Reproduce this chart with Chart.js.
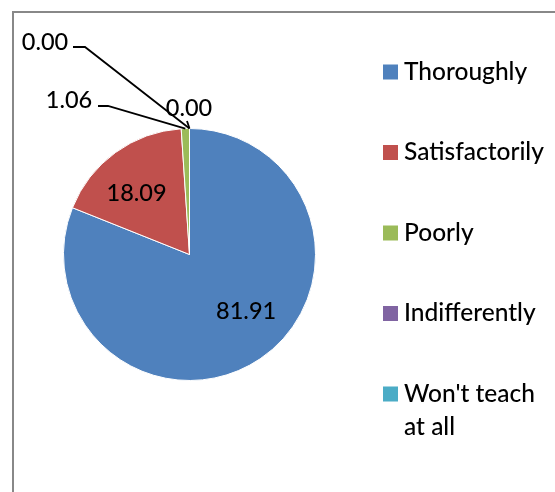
<!DOCTYPE html>
<html>
<head>
<meta charset="utf-8">
<script src="https://cdn.jsdelivr.net/npm/chart.js@4"></script>
<style>
  html, body { margin: 0; padding: 0; background: #fff; }
  #wrap { position: relative; width: 555px; height: 492px; }
  canvas { display: block; }
</style>
</head>
<body>
<div id="wrap"><canvas id="c" width="555" height="492"></canvas></div>
<script>
// ---- data ----
const categories = ["Thoroughly", "Satisfactorily", "Poorly", "Indifferently", "Won't teach at all"];
const values = [81.91, 18.09, 1.06, 0.00, 0.00];
const valueLabels = ["81.91", "18.09", "1.06", "0.00", "0.00"];
const colors = ["#4F81BD", "#C0504D", "#9BBB59", "#8064A2", "#4BACC6"];

const FONT = "Lato, 'Open Sans', sans-serif";

// label placement (style): inside labels use polar offset; outside labels use text anchor + elbow
const labelPlacement = [
  { type: "inside", angleDeg: 135.4, rFrac: 0.64 },
  { type: "inside", angleDeg: 319.0, rFrac: 0.64 },
  { type: "leader", tx: 69, ty: 100, elbow: [[98, 106], [108, 106]] },
  { type: "leader", tx: 45, ty: 42, elbow: [[73, 47], [85, 47]] },
  { type: "leader", tx: 189, ty: 108, elbow: [[187, 121]] }
];

const frame = {
  id: "frame",
  beforeDraw(chart) {
    const ctx = chart.ctx;
    ctx.save();
    ctx.fillStyle = "#fff";
    ctx.fillRect(0, 0, chart.width, chart.height);
    ctx.strokeStyle = "#888888";
    ctx.lineWidth = 2;
    ctx.beginPath();
    ctx.moveTo(13, chart.height + 5);
    ctx.lineTo(13, 12);
    ctx.lineTo(chart.width + 5, 12);
    ctx.stroke();
    ctx.restore();
  }
};

const valueLabelsPlugin = {
  id: "valueLabels",
  afterDatasetsDraw(chart) {
    const ctx = chart.ctx;
    const meta = chart.getDatasetMeta(0);
    ctx.save();
    ctx.font = "500 23.5px " + FONT;
    ctx.fillStyle = "#000";
    ctx.textAlign = "center";
    ctx.textBaseline = "middle";
    meta.data.forEach((arc, i) => {
      const p = labelPlacement[i];
      const cx = arc.x, cy = arc.y, R = arc.outerRadius;
      if (p.type === "inside") {
        const a = p.angleDeg * Math.PI / 180;
        ctx.fillText(valueLabels[i], cx + R * p.rFrac * Math.sin(a), cy - R * p.rFrac * Math.cos(a));
      } else {
        const mid = (arc.startAngle + arc.endAngle) / 2;
        const ex = cx + R * Math.cos(mid), ey = cy + R * Math.sin(mid);
        ctx.strokeStyle = "#000";
        ctx.lineWidth = 1.8;
        ctx.beginPath();
        p.elbow.forEach((pt, k) => { if (k === 0) ctx.moveTo(pt[0], pt[1]); else ctx.lineTo(pt[0], pt[1]); });
        ctx.lineTo(ex, ey);
        ctx.stroke();
        ctx.fillText(valueLabels[i], p.tx, p.ty);
      }
    });
    ctx.restore();
  }
};

const legendPlugin = {
  id: "customLegend",
  afterDraw(chart) {
    const ctx = chart.ctx;
    const labels = chart.data.labels;
    const bg = chart.data.datasets[0].backgroundColor;
    const x0 = 383, box = 15, textX = 404, maxW = 150;
    const y0 = 72, step = 80.5, lineH = 33;
    ctx.save();
    ctx.font = "500 24.5px " + FONT;
    ctx.textBaseline = "middle";
    ctx.textAlign = "left";
    labels.forEach((lab, i) => {
      const y = y0 + i * step;
      ctx.fillStyle = bg[i];
      ctx.fillRect(x0, y - box / 2, box, box);
      // wrap
      const words = lab.split(" ");
      const lines = [];
      let cur = "";
      words.forEach(w => {
        const t = cur ? cur + " " + w : w;
        if (ctx.measureText(t).width > maxW && cur) { lines.push(cur); cur = w; }
        else cur = t;
      });
      if (cur) lines.push(cur);
      ctx.fillStyle = "#000";
      lines.forEach((ln, k) => ctx.fillText(ln, textX, y + k * lineH));
    });
    ctx.restore();
  }
};

new Chart(document.getElementById("c"), {
  type: "pie",
  data: {
    labels: categories,
    datasets: [{
      data: values,
      backgroundColor: colors,
      borderColor: "#ffffff",
      borderWidth: 1
    }]
  },
  options: {
    responsive: false,
    animation: false,
    layout: { padding: { left: 63, right: 239, top: 128, bottom: 111 } },
    plugins: {
      legend: { display: false },
      tooltip: { enabled: false }
    }
  },
  plugins: [frame, valueLabelsPlugin, legendPlugin]
});
</script>
</body>
</html>
